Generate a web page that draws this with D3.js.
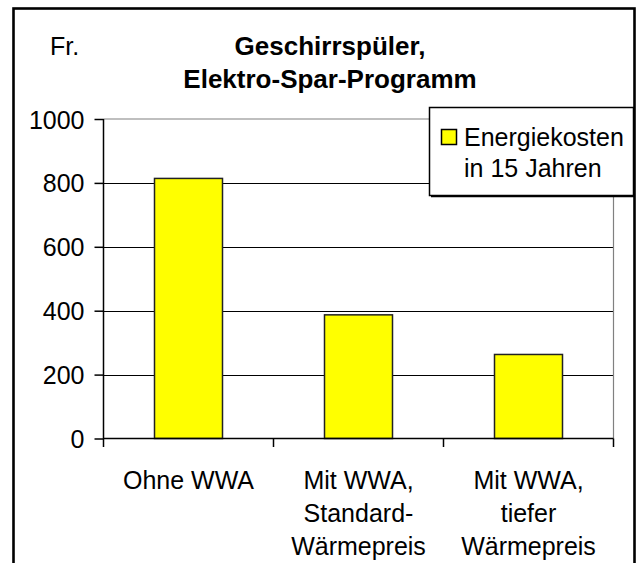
<!DOCTYPE html>
<html>
<head>
<meta charset="utf-8">
<script src="https://cdn.jsdelivr.net/npm/d3@7"></script>
<style>
  body { margin: 0; background: #fff; }
  svg text { font-family: "Liberation Sans", Arial, sans-serif; fill: #000; }
</style>
</head>
<body>
<svg id="chart" width="641" height="563"></svg>
<script>
// data
var categories = [["Ohne WWA"], ["Mit WWA,", "Standard-", "Wärmepreis"], ["Mit WWA,", "tiefer", "Wärmepreis"]];
var values = [814, 387, 263];
var yTicks = [0, 200, 400, 600, 800, 1000];
var titleLines = ["Geschirrspüler,", "Elektro-Spar-Programm"];
var legendLines = ["Energiekosten", "in 15 Jahren"];

var svg = d3.select("#chart");

// outer frame
svg.append("rect")
    .attr("x", 13.5).attr("y", 8.5)
    .attr("width", 621).attr("height", 600)
    .attr("fill", "none").attr("stroke", "#000").attr("stroke-width", 2.6);

var plot = {left: 103.5, right: 613.5, top: 119, bottom: 438.5};

var x = d3.scaleBand()
    .domain(d3.range(categories.length))
    .range([plot.left, plot.right]);

var y = d3.scaleLinear()
    .domain([0, 1000])
    .range([plot.bottom, plot.top]);

// gridlines
svg.selectAll(".grid")
    .data(yTicks.filter(function (d) { return d > 0 && d < 1000; }))
    .enter().append("line")
    .attr("class", "grid")
    .attr("x1", plot.left).attr("x2", plot.right)
    .attr("y1", function (d) { return Math.round(y(d)) + 0.5; })
    .attr("y2", function (d) { return Math.round(y(d)) + 0.5; })
    .attr("stroke", "#000").attr("stroke-width", 1.2);

// plot border top / right in gray
svg.append("path")
    .attr("d", "M" + plot.left + "," + plot.top + "H" + plot.right + "V" + plot.bottom)
    .attr("fill", "none").attr("stroke", "#808080").attr("stroke-width", 1.2);

// bars
var barW = x.bandwidth() * 0.4;
svg.selectAll(".bar")
    .data(values)
    .enter().append("rect")
    .attr("class", "bar")
    .attr("x", function (d, i) { return x(i) + (x.bandwidth() - barW) / 2; })
    .attr("y", function (d) { return y(d); })
    .attr("width", barW)
    .attr("height", function (d) { return y(0) - y(d); })
    .attr("fill", "#ffff00")
    .attr("stroke", "#222").attr("stroke-width", 1.5);

// y axis
var yAxis = d3.axisLeft(y).tickValues(yTicks).tickSize(9).tickPadding(10).tickFormat(d3.format("d"));
var gy = svg.append("g").attr("transform", "translate(" + plot.left + ",0)").call(yAxis);
gy.select(".domain").attr("d", "M0," + plot.top + "V" + (plot.bottom + 8.5)).attr("stroke", "#000").attr("stroke-width", 1.5);
gy.selectAll(".tick line").attr("stroke", "#000").attr("stroke-width", 1.5);
gy.selectAll(".tick text").attr("font-size", 25).attr("font-family", "Liberation Sans, Arial, sans-serif").attr("dy", "0.36em");

// x axis with ticks at band boundaries
svg.append("line")
    .attr("x1", plot.left).attr("x2", plot.right)
    .attr("y1", plot.bottom).attr("y2", plot.bottom)
    .attr("stroke", "#000").attr("stroke-width", 1.5);
var bounds = d3.range(categories.length + 1).map(function (i) { return plot.left + i * x.step(); });
svg.selectAll(".xtick")
    .data(bounds.slice(1))
    .enter().append("line")
    .attr("x1", function (d) { return d; }).attr("x2", function (d) { return d; })
    .attr("y1", plot.bottom).attr("y2", plot.bottom + 8.5)
    .attr("stroke", "#000").attr("stroke-width", 1.5);

// category labels
var lab = svg.selectAll(".xlab")
    .data(categories)
    .enter().append("text")
    .attr("class", "xlab")
    .attr("text-anchor", "middle")
    .attr("font-size", 25);
lab.selectAll("tspan")
    .data(function (d, i) { return d.map(function (s) { return {s: s, i: i}; }); })
    .enter().append("tspan")
    .attr("x", function (d) { return x(d.i) + x.bandwidth() / 2; })
    .attr("y", function (d, j) { return 489 + j * 33; })
    .text(function (d) { return d.s; });

// title
svg.append("text").attr("x", 50).attr("y", 55).attr("font-size", 25).text("Fr.");
svg.selectAll(".title")
    .data(titleLines)
    .enter().append("text")
    .attr("class", "title")
    .attr("x", 330)
    .attr("y", function (d, i) { return 55 + i * 33; })
    .attr("text-anchor", "middle")
    .attr("font-size", 26)
    .attr("font-weight", "bold")
    .text(function (d) { return d; });

// legend
var lg = svg.append("g");
lg.append("rect")
    .attr("x", 429.5).attr("y", 107.5).attr("width", 204).attr("height", 88)
    .attr("fill", "#fff").attr("stroke", "#000").attr("stroke-width", 1.5);
lg.append("line").attr("x1", 431).attr("x2", 634).attr("y1", 196.5).attr("y2", 196.5)
    .attr("stroke", "#000").attr("stroke-width", 1.5);
lg.append("rect")
    .attr("x", 441.5).attr("y", 129.5).attr("width", 15).attr("height", 15)
    .attr("fill", "#ffff00").attr("stroke", "#000").attr("stroke-width", 1.5);
lg.selectAll(".lt")
    .data(legendLines)
    .enter().append("text")
    .attr("class", "lt")
    .attr("x", 464)
    .attr("y", function (d, i) { return 146 + i * 31; })
    .attr("font-size", 25)
    .text(function (d) { return d; });
</script>
</body>
</html>
